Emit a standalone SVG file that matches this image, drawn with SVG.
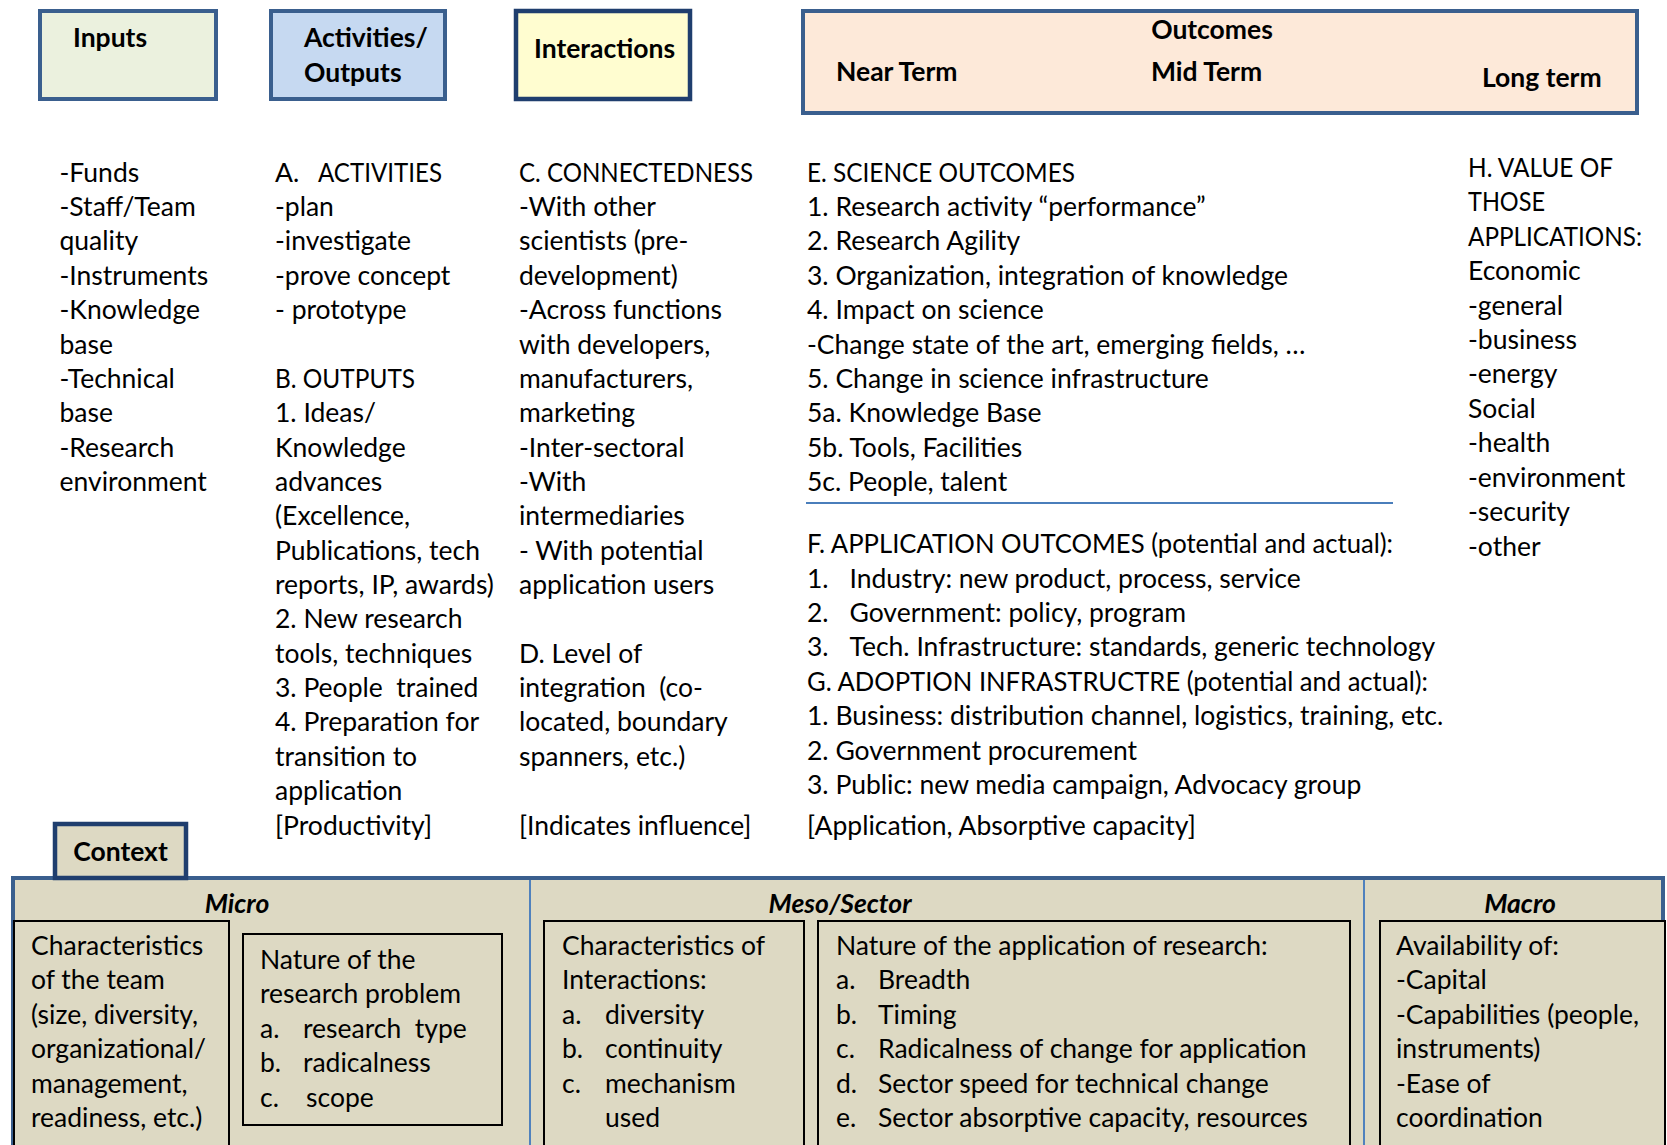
<svg xmlns="http://www.w3.org/2000/svg" width="1667" height="1145" viewBox="0 0 1667 1145">
<style>
.t{font-family:Lato,"Open Sans","Liberation Sans",sans-serif;font-size:26.5px;fill:#000;white-space:pre}
.hb{font-family:Lato,"Open Sans","Liberation Sans",sans-serif;font-size:26.5px;font-weight:700;fill:#000}
.hi{font-family:Lato,"Open Sans","Liberation Sans",sans-serif;font-size:26.5px;font-weight:700;font-style:italic;fill:#000}
.hdr{stroke:#3A5F8E;stroke-width:4}
.dk{stroke:#1F3E6E;stroke-width:4.5}
.inner{fill:#DDD9C3;stroke:#000;stroke-width:2}
</style>
<rect width="1667" height="1145" fill="#fff"/>
<g id="inputs">
<rect class="hdr" x="40" y="11" width="176" height="88" fill="#EBF1DE"/>
<text class="hb" x="73" y="47">Inputs</text>
</g>
<g id="activities">
<rect class="hdr" x="271" y="11" width="174" height="88" fill="#C6D9F1"/>
<text class="hb" x="304" y="47">Activities/</text>
<text class="hb" x="304" y="82">Outputs</text>
</g>
<g id="interactions">
<rect class="dk" x="516" y="11" width="174" height="88" fill="#FFFDD0"/>
<text class="hb" x="534" y="58">Interactions</text>
</g>
<g id="outcomes">
<rect class="hdr" x="803" y="11" width="834" height="102" fill="#FDE9D9"/>
<text class="hb" x="1212" y="39" text-anchor="middle">Outcomes</text>
<text class="hb" x="836" y="81">Near Term</text>
<text class="hb" x="1151" y="81">Mid Term</text>
<text class="hb" x="1482" y="87">Long term</text>
</g>
<g id="inputs-list">
<text class="t">
<tspan x="59.5" y="181.7">-Funds</tspan>
<tspan x="59.5" y="216.1">-Staff/Team</tspan>
<tspan x="59.5" y="250.4">quality</tspan>
<tspan x="59.5" y="284.8">-Instruments</tspan>
<tspan x="59.5" y="319.1">-Knowledge</tspan>
<tspan x="59.5" y="353.5">base</tspan>
<tspan x="59.5" y="387.9">-Technical</tspan>
<tspan x="59.5" y="422.2">base</tspan>
<tspan x="59.5" y="456.6">-Research</tspan>
<tspan x="59.5" y="490.9">environment</tspan>
</text>
</g>
<g id="activities-list">
<text class="t" x="275" y="181.7">A.</text>
<text class="t" x="318" y="181.7" textLength="124" lengthAdjust="spacingAndGlyphs">ACTIVITIES</text>
<text class="t" x="275" y="387.9" textLength="140" lengthAdjust="spacingAndGlyphs">B. OUTPUTS</text>
<text class="t">
<tspan x="275" y="216.1">-plan</tspan>
<tspan x="275" y="250.4">-investigate</tspan>
<tspan x="275" y="284.8">-prove concept</tspan>
<tspan x="275" y="319.1">- prototype</tspan>
<tspan x="275" y="422.2">1. Ideas/</tspan>
<tspan x="275" y="456.6">Knowledge</tspan>
<tspan x="275" y="490.9">advances</tspan>
<tspan x="275" y="525.3">(Excellence,</tspan>
<tspan x="275" y="559.6">Publications, tech</tspan>
<tspan x="275" y="594.0">reports, IP, awards)</tspan>
<tspan x="275" y="628.4">2. New research</tspan>
<tspan x="275" y="662.7">tools, techniques</tspan>
<tspan x="275" y="697.1">3. People  trained</tspan>
<tspan x="275" y="731.4">4. Preparation for</tspan>
<tspan x="275" y="765.8">transition to</tspan>
<tspan x="275" y="800.2">application</tspan>
<tspan x="275" y="834.5">[Productivity]</tspan>
</text>
</g>
<g id="interactions-list">
<text class="t" x="519" y="181.7" textLength="234" lengthAdjust="spacingAndGlyphs">C. CONNECTEDNESS</text>
<text class="t">
<tspan x="519" y="216.1">-With other</tspan>
<tspan x="519" y="250.4">scientists (pre-</tspan>
<tspan x="519" y="284.8">development)</tspan>
<tspan x="519" y="319.1">-Across functions</tspan>
<tspan x="519" y="353.5">with developers,</tspan>
<tspan x="519" y="387.9">manufacturers,</tspan>
<tspan x="519" y="422.2">marketing</tspan>
<tspan x="519" y="456.6">-Inter-sectoral</tspan>
<tspan x="519" y="490.9">-With</tspan>
<tspan x="519" y="525.3">intermediaries</tspan>
<tspan x="519" y="559.6">- With potential</tspan>
<tspan x="519" y="594.0">application users</tspan>
<tspan x="519" y="662.7">D. Level of</tspan>
<tspan x="519" y="697.1">integration  (co-</tspan>
<tspan x="519" y="731.4">located, boundary</tspan>
<tspan x="519" y="765.8">spanners, etc.)</tspan>
<tspan x="519" y="834.5">[Indicates influence]</tspan>
</text>
</g>
<g id="outcomes-list">
<text class="t" x="807" y="181.7" textLength="268" lengthAdjust="spacingAndGlyphs">E. SCIENCE OUTCOMES</text>
<text class="t">
<tspan x="807" y="216.1">1. Research activity “performance”</tspan>
<tspan x="807" y="250.4">2. Research Agility</tspan>
<tspan x="807" y="284.8">3. Organization, integration of knowledge</tspan>
<tspan x="807" y="319.1">4. Impact on science</tspan>
<tspan x="807" y="353.5">-Change state of the art, emerging fields, …</tspan>
<tspan x="807" y="387.9">5. Change in science infrastructure</tspan>
<tspan x="807" y="422.2">5a. Knowledge Base</tspan>
<tspan x="807" y="456.6">5b. Tools, Facilities</tspan>
<tspan x="807" y="490.9">5c. People, talent</tspan>
</text>
<line x1="806" y1="503" x2="1393" y2="503" stroke="#4A7EBB" stroke-width="2"/>
<text class="t" x="807" y="553.3" textLength="586" lengthAdjust="spacingAndGlyphs">F. APPLICATION OUTCOMES (potential and actual):</text>
<text class="t" x="807" y="690.8" textLength="621" lengthAdjust="spacingAndGlyphs">G. ADOPTION INFRASTRUCTRE (potential and actual):</text>
<text class="t">
<tspan x="807" y="587.7">1.</tspan><tspan x="849.5" y="587.7">Industry: new product, process, service</tspan>
<tspan x="807" y="622.0">2.</tspan><tspan x="849.5" y="622.0">Government: policy, program</tspan>
<tspan x="807" y="656.4">3.</tspan><tspan x="849.5" y="656.4">Tech. Infrastructure: standards, generic technology</tspan>
<tspan x="807" y="725.2">1. Business: distribution channel, logistics, training, etc.</tspan>
<tspan x="807" y="759.5">2. Government procurement</tspan>
<tspan x="807" y="793.9">3. Public: new media campaign, Advocacy group</tspan>
<tspan x="807" y="834.5">[Application, Absorptive capacity]</tspan>
</text>
</g>
<g id="value-list">
<text class="t" x="1468" y="176.7" textLength="145" lengthAdjust="spacingAndGlyphs">H. VALUE OF</text>
<text class="t" x="1468" y="211.1" textLength="77" lengthAdjust="spacingAndGlyphs">THOSE</text>
<text class="t" x="1468" y="245.6" textLength="174" lengthAdjust="spacingAndGlyphs">APPLICATIONS:</text>
<text class="t">
<tspan x="1468" y="280.0">Economic</tspan>
<tspan x="1468" y="314.5">-general</tspan>
<tspan x="1468" y="348.9">-business</tspan>
<tspan x="1468" y="383.3">-energy</tspan>
<tspan x="1468" y="417.8">Social</tspan>
<tspan x="1468" y="452.2">-health</tspan>
<tspan x="1468" y="486.7">-environment</tspan>
<tspan x="1468" y="521.1">-security</tspan>
<tspan x="1468" y="555.5">-other</tspan>
</text>
</g>
<g id="context-panel">
<rect x="13" y="878" width="1650" height="300" fill="#DDD9C3" stroke="#3A5F8E" stroke-width="4"/>
<line x1="530" y1="880" x2="530" y2="1145" stroke="#4F81BD" stroke-width="2"/>
<line x1="1364" y1="880" x2="1364" y2="1145" stroke="#4F81BD" stroke-width="2"/>
</g>
<g id="context">
<rect class="dk" x="55" y="824" width="131" height="54" fill="#DDD9C3"/>
<text class="hb" x="120.5" y="861" text-anchor="middle">Context</text>
</g>
<g id="micro">
<text class="hi" x="237" y="913" text-anchor="middle">Micro</text>
<rect class="inner" x="14" y="921" width="215" height="240"/>
<text class="t">
<tspan x="31" y="955">Characteristics</tspan>
<tspan x="31" y="989.4">of the team</tspan>
<tspan x="31" y="1023.7">(size, diversity,</tspan>
<tspan x="31" y="1058.1">organizational/</tspan>
<tspan x="31" y="1092.5">management,</tspan>
<tspan x="31" y="1126.8">readiness, etc.)</tspan>
</text>
<rect class="inner" x="243" y="934" width="259" height="191"/>
<text class="t">
<tspan x="260" y="969">Nature of the</tspan>
<tspan x="260" y="1003.4">research problem</tspan>
<tspan x="260" y="1037.7">a.</tspan><tspan x="303" y="1037.7">research  type</tspan>
<tspan x="260" y="1072.1">b.</tspan><tspan x="303" y="1072.1">radicalness</tspan>
<tspan x="260" y="1106.5">c.</tspan><tspan x="306" y="1106.5">scope</tspan>
</text>
</g>
<g id="meso">
<text class="hi" x="840" y="913" text-anchor="middle">Meso/Sector</text>
<rect class="inner" x="544" y="921" width="260" height="240"/>
<text class="t">
<tspan x="562" y="955">Characteristics of</tspan>
<tspan x="562" y="989.4">Interactions:</tspan>
<tspan x="562" y="1023.7">a.</tspan><tspan x="605" y="1023.7">diversity</tspan>
<tspan x="562" y="1058.1">b.</tspan><tspan x="605" y="1058.1">continuity</tspan>
<tspan x="562" y="1092.5">c.</tspan><tspan x="605" y="1092.5">mechanism</tspan>
<tspan x="605" y="1126.8">used</tspan>
</text>
<rect class="inner" x="818" y="921" width="532" height="240"/>
<text class="t">
<tspan x="836" y="955">Nature of the application of research:</tspan>
<tspan x="836" y="989.4">a.</tspan><tspan x="878" y="989.4">Breadth</tspan>
<tspan x="836" y="1023.7">b.</tspan><tspan x="878" y="1023.7">Timing</tspan>
<tspan x="836" y="1058.1">c.</tspan><tspan x="878" y="1058.1">Radicalness of change for application</tspan>
<tspan x="836" y="1092.5">d.</tspan><tspan x="878" y="1092.5">Sector speed for technical change</tspan>
<tspan x="836" y="1126.8">e.</tspan><tspan x="878" y="1126.8">Sector absorptive capacity, resources</tspan>
</text>
</g>
<g id="macro">
<text class="hi" x="1520" y="913" text-anchor="middle">Macro</text>
<rect class="inner" x="1380" y="921" width="285" height="240"/>
<text class="t">
<tspan x="1396" y="955">Availability of:</tspan>
<tspan x="1396" y="989.4">-Capital</tspan>
<tspan x="1396" y="1023.7">-Capabilities (people,</tspan>
<tspan x="1396" y="1058.1">instruments)</tspan>
<tspan x="1396" y="1092.5">-Ease of</tspan>
<tspan x="1396" y="1126.8">coordination</tspan>
</text>
</g>
<g id="connectors"></g>
</svg>
